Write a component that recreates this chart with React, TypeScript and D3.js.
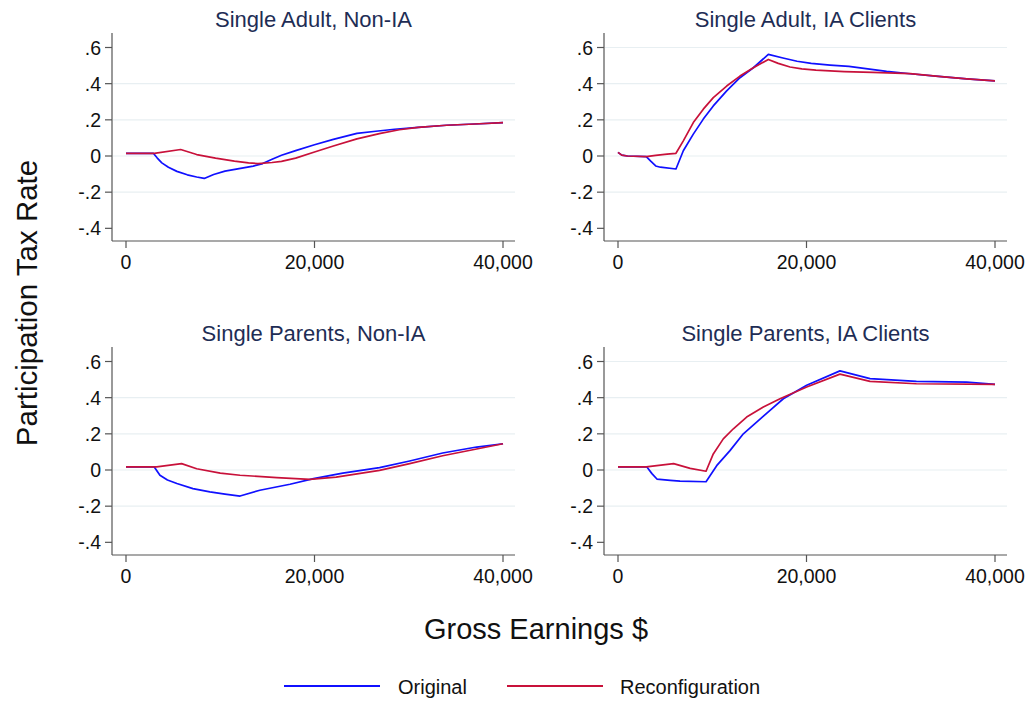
import React from "react";
import * as d3 from "d3";

type Pt = [number, number];

// Gross earnings ($) vs participation tax rate, per household type
const saNonIaOriginal: Pt[] = [
  [0, 0.015], [2900, 0.015], [3300, -0.01], [3800, -0.038], [4500, -0.062], [5400, -0.085],
  [6500, -0.104], [7500, -0.116], [8300, -0.124], [9300, -0.102], [10500, -0.084], [12000, -0.07],
  [13500, -0.056], [14500, -0.042], [15500, -0.018], [16500, 0.004], [18000, 0.03], [20000, 0.062],
  [22000, 0.092], [24500, 0.125], [26500, 0.137], [28500, 0.148], [31000, 0.158], [34000, 0.17],
  [37000, 0.177], [40000, 0.185],
];
const saNonIaReconfig: Pt[] = [
  [0, 0.015], [3000, 0.015], [5800, 0.036], [7500, 0.008], [9500, -0.012], [11500, -0.028],
  [13000, -0.038], [14000, -0.042], [15500, -0.036], [16500, -0.03], [18000, -0.012], [20000, 0.022],
  [22000, 0.055], [24500, 0.095], [27000, 0.125], [29000, 0.145], [31000, 0.158], [34000, 0.17],
  [37000, 0.177], [40000, 0.185],
];

const saIaOriginal: Pt[] = [
  [0, 0.02], [400, 0.005], [1000, 0], [3000, -0.003], [3500, -0.03], [4000, -0.055], [4500, -0.062],
  [6150, -0.072], [6930, 0.029], [7990, 0.121], [9050, 0.204], [10110, 0.277], [11530, 0.36],
  [12940, 0.433], [14360, 0.488], [15950, 0.562], [17500, 0.542], [19000, 0.524], [20500, 0.512],
  [22500, 0.503], [24500, 0.496], [26500, 0.482], [28500, 0.468], [31000, 0.455], [34000, 0.44],
  [37000, 0.426], [40000, 0.415],
];
const saIaReconfig: Pt[] = [
  [0, 0.02], [400, 0.005], [1000, 0], [3000, -0.003], [4000, 0.003], [5200, 0.01], [6150, 0.015],
  [6930, 0.084], [7990, 0.185], [9050, 0.259], [10110, 0.323], [11530, 0.387], [12940, 0.442],
  [14360, 0.488], [15950, 0.534], [17000, 0.512], [18250, 0.492], [19500, 0.482], [21000, 0.475],
  [24000, 0.467], [27000, 0.462], [31000, 0.455], [34000, 0.44], [37000, 0.426], [40000, 0.415],
];

const spNonIaOriginal: Pt[] = [
  [0, 0.017], [3000, 0.017], [3600, -0.029], [4400, -0.055], [5400, -0.075], [7100, -0.103],
  [8900, -0.121], [10500, -0.133], [12100, -0.144], [14200, -0.112], [17400, -0.079], [19900, -0.048],
  [23000, -0.017], [26900, 0.013], [30100, 0.05], [33600, 0.094], [37200, 0.127], [40000, 0.145],
];
const spNonIaReconfig: Pt[] = [
  [0, 0.017], [3250, 0.017], [5900, 0.035], [7500, 0.007], [10000, -0.017], [12100, -0.029],
  [16000, -0.042], [19500, -0.052], [22300, -0.039], [26900, -0.002], [30100, 0.035], [33600, 0.079],
  [37200, 0.116], [40000, 0.145],
];

const spIaOriginal: Pt[] = [
  [0, 0.017], [3070, 0.017], [3600, -0.02], [4130, -0.05], [5540, -0.057], [6580, -0.062],
  [9340, -0.065], [10470, 0.024], [11880, 0.107], [13300, 0.2], [14710, 0.265], [16130, 0.33],
  [17540, 0.394], [20020, 0.469], [23550, 0.548], [26740, 0.505], [31660, 0.49], [37000, 0.486],
  [40000, 0.473],
];
const spIaReconfig: Pt[] = [
  [0, 0.017], [3000, 0.017], [5900, 0.035], [7660, 0.009], [9340, -0.007], [10110, 0.089],
  [11170, 0.172], [12240, 0.228], [13650, 0.293], [15420, 0.348], [17190, 0.394], [20020, 0.459],
  [23550, 0.53], [26740, 0.49], [31660, 0.477], [40000, 0.473],
];

const panelTitles = [
  "Single Adult, Non-IA",
  "Single Adult, IA Clients",
  "Single Parents, Non-IA",
  "Single Parents, IA Clients",
];
const originalSeries = [saNonIaOriginal, saIaOriginal, spNonIaOriginal, spIaOriginal];
const reconfigSeries = [saNonIaReconfig, saIaReconfig, spNonIaReconfig, spIaReconfig];

const xTicks = [0, 20000, 40000];
const yTicks = [-0.4, -0.2, 0, 0.2, 0.4, 0.6];
const seriesNames = ["Original", "Reconfiguration"];

const BLUE = "#1010ff";
const RED = "#c8113a";
const FONT = "'Liberation Sans', Arial, Helvetica, sans-serif";

const fmtX = d3.format(",");
const fmtY = (v: number) => {
  if (Math.abs(v) < 1e-9) return "0";
  const s = v.toFixed(1);
  return s.replace(/^(-?)0\./, "$1.");
};

function Panel({ idx }: { idx: number }) {
  const col = idx % 2;
  const row = Math.floor(idx / 2);
  const axisX = col === 0 ? 112 : 604;
  const x0 = axisX + 14;
  const zeroY = row === 0 ? 156 : 470;

  const x = d3.scaleLinear().domain([0, 40000]).range([x0, x0 + 377]);
  const y = d3.scaleLinear().domain([0, 0.6]).range([zeroY, zeroY - 108.5]);
  const right = x0 + 389;
  const top = zeroY - 123;
  const bottom = zeroY + 85;

  const line = d3
    .line<Pt>()
    .x((d) => x(d[0]))
    .y((d) => y(d[1]));

  const gridTicks = yTicks.filter((t) => t > -0.3 && (col === 1 || t < 0.5));

  return (
    <g>
      <text
        x={(axisX + right) / 2}
        y={zeroY - 129}
        textAnchor="middle"
        fontSize={22}
        fill="#1e2d55"
        fontFamily={FONT}
      >
        {panelTitles[idx]}
      </text>
      {gridTicks.map((t) => (
        <line key={t} x1={axisX + 1} x2={right} y1={y(t)} y2={y(t)} stroke="#e8eff2" strokeWidth={1.2} />
      ))}
      <path d={line(originalSeries[idx]) ?? ""} fill="none" stroke={BLUE} strokeWidth={1.7} strokeLinejoin="round" />
      <path d={line(reconfigSeries[idx]) ?? ""} fill="none" stroke={RED} strokeWidth={1.7} strokeLinejoin="round" />
      <line x1={axisX} x2={axisX} y1={top} y2={bottom} stroke="#555" strokeWidth={1.2} />
      <line x1={axisX} x2={right} y1={bottom} y2={bottom} stroke="#555" strokeWidth={1.2} />
      {yTicks.map((t) => (
        <g key={t}>
          <line x1={axisX - 7} x2={axisX} y1={y(t)} y2={y(t)} stroke="#555" strokeWidth={1.2} />
          <text x={axisX - 11} y={y(t) + 7} textAnchor="end" fontSize={19.5} fill="#111" fontFamily={FONT}>
            {fmtY(t)}
          </text>
        </g>
      ))}
      {xTicks.map((t) => (
        <g key={t}>
          <line x1={x(t)} x2={x(t)} y1={bottom} y2={bottom + 7} stroke="#555" strokeWidth={1.2} />
          <text x={x(t)} y={bottom + 28} textAnchor="middle" fontSize={19.5} fill="#111" fontFamily={FONT}>
            {fmtX(t)}
          </text>
        </g>
      ))}
    </g>
  );
}

export default function App() {
  return (
    <svg
      width={1031}
      height={702}
      style={{ position: "absolute", left: 0, top: 0, background: "#fff" }}
    >
      <rect width={1031} height={702} fill="#fff" />
      {[0, 1, 2, 3].map((i) => (
        <Panel key={i} idx={i} />
      ))}
      <text
        transform="translate(37,303) rotate(-90)"
        textAnchor="middle"
        fontSize={29.5}
        fill="#111"
        fontFamily={FONT}
      >
        Participation Tax Rate
      </text>
      <text x={536} y={639} textAnchor="middle" fontSize={29} fill="#111" fontFamily={FONT}>
        Gross Earnings $
      </text>
      <g>
        <line x1={284} x2={380} y1={686} y2={686} stroke={BLUE} strokeWidth={2} />
        <text x={398} y={694} fontSize={20} fill="#111" fontFamily={FONT}>
          {seriesNames[0]}
        </text>
        <line x1={507} x2={603} y1={686} y2={686} stroke={RED} strokeWidth={2} />
        <text x={620} y={694} fontSize={20} fill="#111" fontFamily={FONT}>
          {seriesNames[1]}
        </text>
      </g>
    </svg>
  );
}
